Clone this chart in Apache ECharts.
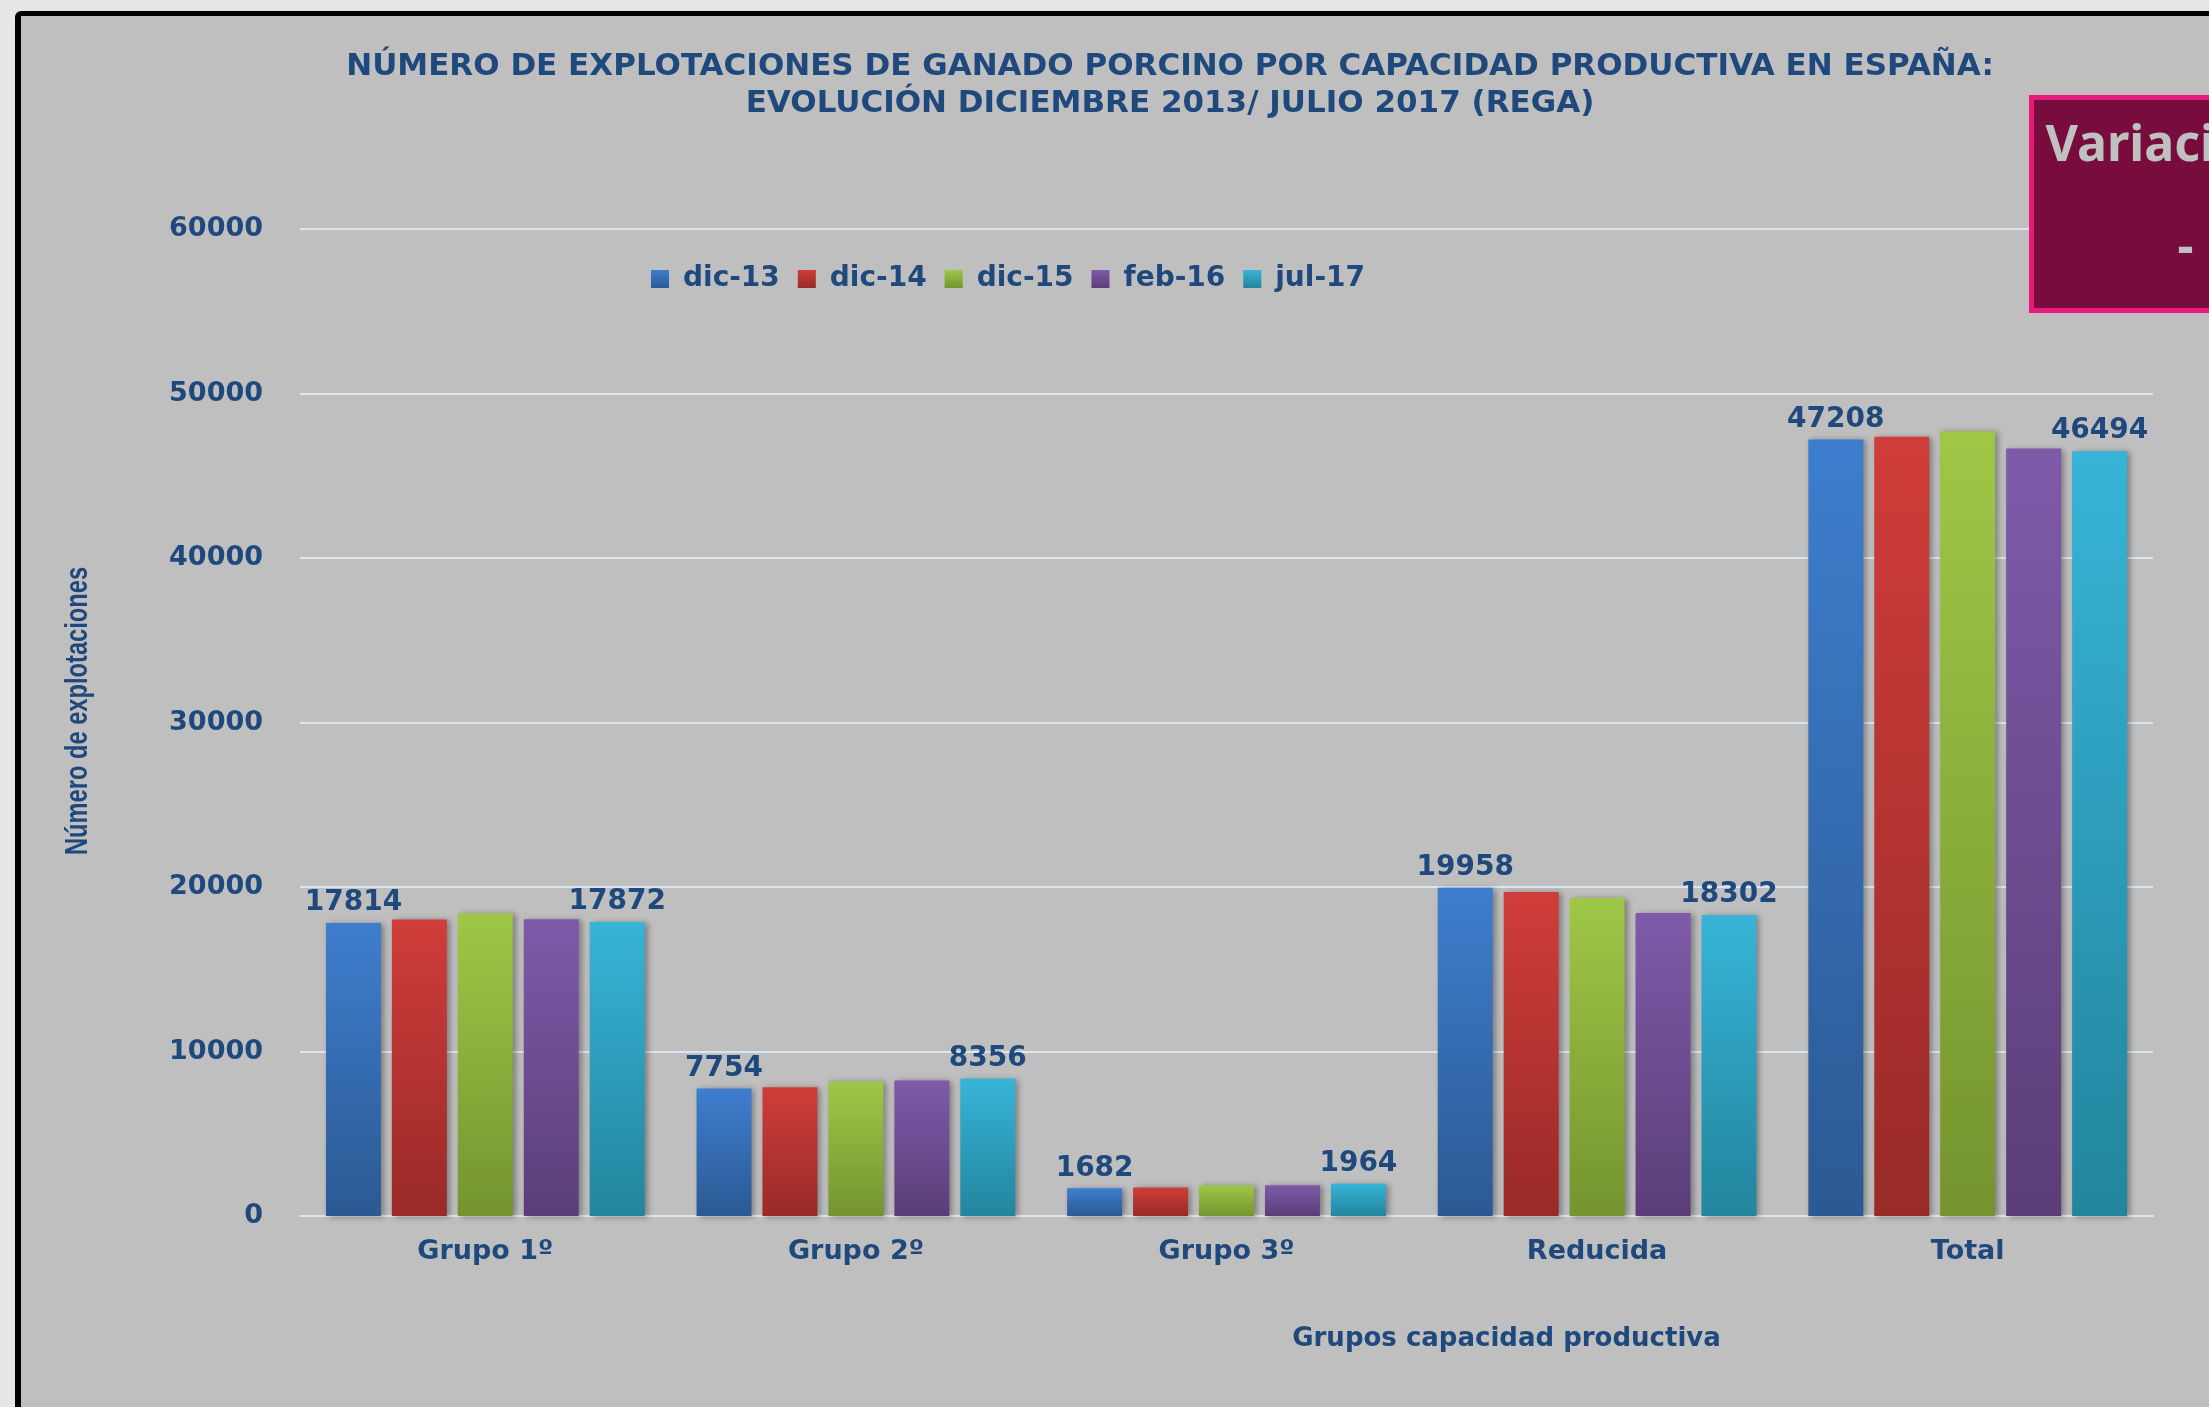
<!DOCTYPE html>
<html>
<head>
<meta charset="utf-8">
<title>Explotaciones porcino por capacidad productiva</title>
<script src="https://cdn.jsdelivr.net/npm/echarts@6/dist/echarts.min.js"></script>
<style>
html, body { margin: 0; padding: 0; background: #e6e6e6; }
#frame {
	position: absolute; left: 15px; top: 11px; width: 2300px; height: 1500px;
	border-left: 6px solid #000; border-top: 5px solid #000;
	border-top-left-radius: 6px; background: #bfbfbf;
}
#container { position: absolute; left: 0; top: 0; width: 2209px; height: 1407px; }
</style>
</head>
<body>
<div id="frame"></div>
<div id="container"></div>
<script type="text/javascript">
// datos (REGA)
var categorias = ['Grupo 1º', 'Grupo 2º', 'Grupo 3º', 'Reducida', 'Total'];
var fechas = ['dic-13', 'dic-14', 'dic-15', 'feb-16', 'jul-17'];
var dic13 = [17814, 7754, 1682, 19958, 47208];
var dic14 = [18030, 7820, 1740, 19700, 47370];
var dic15 = [18390, 8180, 1860, 19330, 47700];
var feb16 = [18040, 8240, 1870, 18420, 46650];
var jul17 = [17872, 8356, 1964, 18302, 46494];
var valores = [dic13, dic14, dic15, feb16, jul17];
var conEtiqueta = [true, false, false, false, true];

var azul = '#1f497d';
var colores = [
	['#3e7ece', '#2b5993'],
	['#d03d3a', '#982a28'],
	['#9fc746', '#75942f'],
	['#7e5aa9', '#5b3e78'],
	['#37b4d8', '#22859d']
];

function degradado(c) {
	return { type: 'linear', x: 0, y: 0, x2: 0, y2: 1,
		colorStops: [{ offset: 0, color: c[0] }, { offset: 1, color: c[1] }] };
}

var series = [];
for (var i = 0; i < fechas.length; i++) {
	series.push({
		name: fechas[i],
		type: 'bar',
		data: valores[i],
		barGap: '20%',
		barCategoryGap: '14%',
		itemStyle: {
			color: degradado(colores[i]),
			shadowColor: 'rgba(0,0,0,0.35)',
			shadowBlur: 6,
			shadowOffsetX: 3,
			shadowOffsetY: 1
		},
		label: {
			show: conEtiqueta[i],
			position: 'top',
			distance: 6,
			color: azul,
			fontFamily: 'DejaVu Sans',
			fontWeight: 'bold',
			fontSize: 28
		}
	});
}

var myChart = echarts.init(document.getElementById('container'));
var option = {
	backgroundColor: 'transparent',
	animation: false,
	title: {
		text: 'NÚMERO DE EXPLOTACIONES DE GANADO PORCINO POR CAPACIDAD PRODUCTIVA EN ESPAÑA:\nEVOLUCIÓN DICIEMBRE 2013/ JULIO 2017 (REGA)',
		left: 1165,
		top: 43,
		textAlign: 'center',
		textStyle: {
			color: azul,
			fontFamily: 'DejaVu Sans',
			fontWeight: 'bold',
			fontSize: 31,
			lineHeight: 37
		}
	},
	legend: {
		data: fechas,
		left: 646,
		top: 260,
		icon: 'rect',
		itemWidth: 18,
		itemHeight: 18,
		itemGap: 18,
		textStyle: {
			color: azul,
			fontFamily: 'DejaVu Sans',
			fontWeight: 'bold',
			fontSize: 28,
			padding: [0, 0, 0, 9]
		}
	},
	grid: { left: 300, right: 56, top: 229, bottom: 191 },
	xAxis: {
		type: 'category',
		data: categorias,
		name: 'Grupos capacidad productiva',
		nameLocation: 'middle',
		nameGap: 110,
		nameTextStyle: {
			color: azul,
			fontFamily: 'DejaVu Sans',
			fontWeight: 'bold',
			fontSize: 26,
			padding: [0, 0, 0, 560]
		},
		axisLine: { lineStyle: { color: '#dce6f2', width: 2 } },
		axisTick: { show: false },
		axisLabel: {
			margin: 22,
			color: azul,
			fontFamily: 'DejaVu Sans',
			fontWeight: 'bold',
			fontSize: 27
		}
	},
	yAxis: {
		type: 'value',
		min: 0,
		max: 60000,
		interval: 10000,
		axisLine: { show: false },
		axisTick: { show: false },
		splitLine: { lineStyle: { color: '#dce6f2', width: 2 } },
		axisLabel: {
			margin: 37,
			color: azul,
			fontFamily: 'DejaVu Sans',
			fontWeight: 'bold',
			fontSize: 27,
			formatter: function (v) { return String(v); }
		}
	},
	series: series,
	graphic: [{
		// título del eje Y, estrecho como en el original
		type: 'text',
		x: 78,
		y: 711,
		rotation: Math.PI / 2,
		scaleX: 0.74,
		style: {
			text: 'Número de explotaciones',
			fill: azul,
			font: 'bold 32px "Liberation Sans"',
			align: 'center',
			verticalAlign: 'middle'
		}
	}, {
		type: 'group',
		left: 2029,
		top: 95,
		children: [{
			type: 'rect',
			shape: { x: 0, y: 0, width: 260, height: 213 },
			style: { fill: '#780c3c', stroke: '#ea1a7b', lineWidth: 5 },
			z: 100
		}, {
			type: 'text',
			x: 14,
			y: 24,
			style: {
				text: 'Variación',
				fill: '#c0c0c0',
				font: 'bold 50px "Noto Sans"'
			},
			z: 101
		}, {
			type: 'text',
			x: 146,
			y: 126,
			style: {
				text: '-',
				fill: '#c0c0c0',
				font: 'bold 50px "Noto Sans"'
			},
			z: 101
		}]
	}]
};
myChart.setOption(option);
</script>
</body>
</html>
